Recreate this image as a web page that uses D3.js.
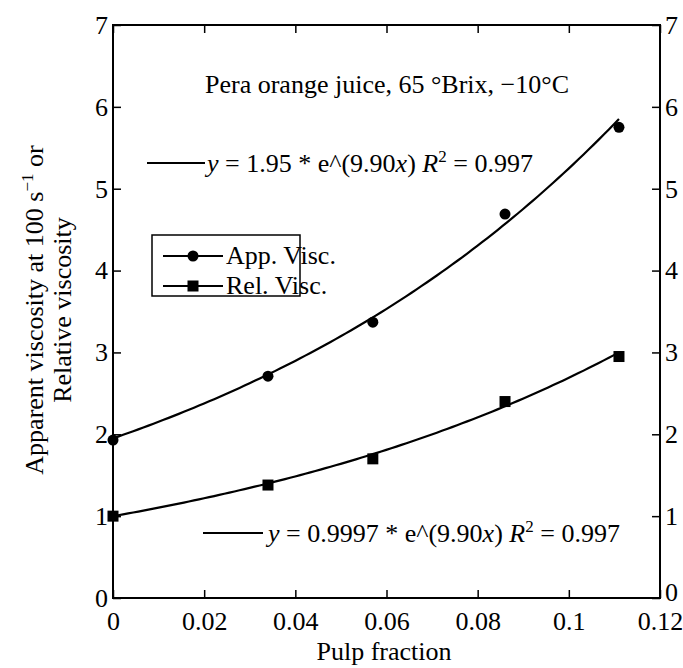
<!DOCTYPE html>
<html><head><meta charset="utf-8">
<script src="https://cdn.jsdelivr.net/npm/d3@7"></script>
<style>
body{margin:0;background:#fff;}
</style></head>
<body><svg id="c" width="683" height="668"></svg>
<script>
// Data
const pulpFraction = [0, 0.034, 0.057, 0.086, 0.111];
const appVisc = [1.93, 2.71, 3.37, 4.69, 5.75];
const relVisc = [1.00, 1.38, 1.70, 2.40, 2.95];
const xTicks = [0, 0.02, 0.04, 0.06, 0.08, 0.1, 0.12];
const xTickLabels = ["0", "0.02", "0.04", "0.06", "0.08", "0.1", "0.12"];
const yTicks = [0, 1, 2, 3, 4, 5, 6, 7];
const seriesNames = ["App. Visc.", "Rel. Visc."];
const fitCoefA = [1.95, 0.9997];
const fitCoefB = [9.90, 9.90];
const fitR2 = [0.997, 0.997];

const FONT = "'Liberation Serif', 'Times New Roman', 'DejaVu Serif', serif";
const svg = d3.select("#c");
const L = 113, R = 660, T = 25, B = 598;
const x = d3.scaleLinear().domain([0, 0.12]).range([L, R]);
const y = d3.scaleLinear().domain([0, 7]).range([B, T]);
const fs = 26;

// frame
svg.append("rect").attr("x", L).attr("y", T).attr("width", R - L).attr("height", B - T)
  .attr("fill", "none").attr("stroke", "#000").attr("stroke-width", 2);

// axes with inward ticks
const ax = (g, axis) => { g.call(axis); g.attr("font-family", null).attr("font-size", null);
  g.select(".domain").remove();
  g.selectAll("line").attr("stroke", "#000").attr("stroke-width", 1.5);
  g.selectAll("text").style("font-family", FONT).style("font-size", fs + "px").attr("fill", "#000"); };

svg.append("g").attr("transform", `translate(0,${B})`)
  .call(g => ax(g, d3.axisBottom(x).tickValues(xTicks).tickFormat((d, i) => xTickLabels[i]).tickSizeInner(-8).tickSizeOuter(0).tickPadding(14)));
svg.append("g").attr("transform", `translate(0,${T})`)
  .call(g => ax(g, d3.axisTop(x).tickValues(xTicks).tickFormat("").tickSizeInner(-8).tickSizeOuter(0)));
svg.append("g").attr("transform", `translate(${L},0)`)
  .call(g => ax(g, d3.axisLeft(y).tickValues(yTicks).tickFormat(d3.format("d")).tickSizeInner(-8).tickSizeOuter(0).tickPadding(5)));
const rAx = svg.append("g").attr("transform", `translate(${R},0)`)
  .call(g => ax(g, d3.axisRight(y).tickValues(yTicks).tickFormat(d3.format("d")).tickSizeInner(-8).tickSizeOuter(0).tickPadding(5)));
rAx.selectAll(".tick").filter(d => d === 0).select("text").attr("dy", "0.1em");

// fit curves
const line = d3.line().x(d => x(d[0])).y(d => y(d[1]));
[0, 1].forEach(k => {
  const pts = d3.range(0, 101).map(i => { const xv = pulpFraction[4] * i / 100; return [xv, fitCoefA[k] * Math.exp(fitCoefB[k] * xv)]; });
  svg.append("path").attr("d", line(pts)).attr("fill", "none").attr("stroke", "#000").attr("stroke-width", 2.2);
});

// markers
svg.selectAll(".app").data(pulpFraction).enter().append("circle")
  .attr("cx", d => x(d)).attr("cy", (d, i) => y(appVisc[i])).attr("r", 5.5).attr("fill", "#000");
svg.selectAll(".rel").data(pulpFraction).enter().append("rect")
  .attr("x", d => x(d) - 5.5).attr("y", (d, i) => y(relVisc[i]) - 5.5).attr("width", 11).attr("height", 11).attr("fill", "#000");

function txt(sel) { return sel.style("font-family", FONT).style("font-size", fs + "px").attr("fill", "#000"); }

// title annotation
txt(svg.append("text")).attr("x", 387).attr("y", 93).attr("text-anchor", "middle")
  .text("Pera orange juice, 65 °Brix, −10°C");

// equations
function eq(lx1, lx2, ly, tx, a, r2) {
  svg.append("line").attr("x1", lx1).attr("x2", lx2).attr("y1", ly).attr("y2", ly).attr("stroke", "#000").attr("stroke-width", 2);
  const t = txt(svg.append("text")).attr("x", tx).attr("y", ly + 9);
  t.append("tspan").attr("font-style", "italic").text("y");
  t.append("tspan").text(` = ${a} * e^(${fitCoefB[0].toFixed(2)}`);
  t.append("tspan").attr("font-style", "italic").text("x");
  t.append("tspan").text(") ");
  t.append("tspan").attr("font-style", "italic").text("R");
  t.append("tspan").style("font-size", "17px").attr("dy", -10).text("2");
  t.append("tspan").attr("dy", 10).text(` = ${r2}`);
}
eq(147, 205, 163, 207, fitCoefA[0], fitR2[0]);
eq(203, 263, 533, 268, fitCoefA[1], fitR2[1]);

// legend
svg.append("rect").attr("x", 152).attr("y", 235).attr("width", 148).attr("height", 61)
  .attr("fill", "#fff").attr("stroke", "#000").attr("stroke-width", 1.5);
[0, 1].forEach(k => {
  const ly = 256 + k * 30;
  svg.append("line").attr("x1", 163).attr("x2", 223).attr("y1", ly).attr("y2", ly).attr("stroke", "#000").attr("stroke-width", 2);
  if (k === 0) svg.append("circle").attr("cx", 193).attr("cy", ly).attr("r", 5.5).attr("fill", "#000");
  else svg.append("rect").attr("x", 187.5).attr("y", ly - 5.5).attr("width", 11).attr("height", 11).attr("fill", "#000");
  txt(svg.append("text")).attr("x", 226).attr("y", ly + 8).text(seriesNames[k]);
});

// axis titles
txt(svg.append("text")).attr("x", 384).attr("y", 660).attr("text-anchor", "middle").text("Pulp fraction");
const yl = txt(svg.append("text")).attr("transform", "translate(43,310) rotate(-90)").attr("text-anchor", "middle");
yl.append("tspan").text("Apparent viscosity at 100 s");
yl.append("tspan").style("font-size", "17px").attr("dy", -10).text("−1");
yl.append("tspan").attr("dy", 10).text(" or");
txt(svg.append("text")).attr("transform", "translate(71,310) rotate(-90)").attr("text-anchor", "middle").text("Relative viscosity");
</script></body></html>
